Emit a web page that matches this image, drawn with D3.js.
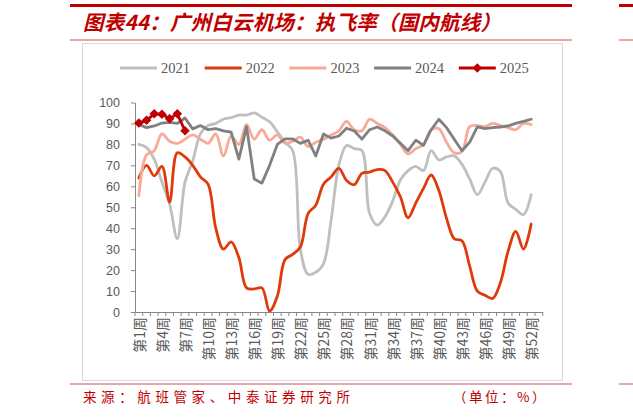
<!DOCTYPE html>
<html><head><meta charset="utf-8">
<script src="https://cdn.jsdelivr.net/npm/d3@7"></script>
<style>html,body{margin:0;padding:0;background:#fff;}svg{display:block;}</style>
</head><body>
<script>
// ---- data ----
const weeks = d3.range(1, 54).map(i => `第${i}周`);
const seriesNames = ["2021", "2022", "2023", "2024", "2025"];
const y2021 = [80,78.5,73,62,51.5,35,62,72,85,89,90,92,92.8,94,94,95,93,90.8,86,81,77,30,18,19,23,44,70,79.5,78,77,47,41.5,45.5,53,63,67.5,69.5,67.5,77,72.6,74,74.5,70.5,63.5,56,62,68.6,67,52,49,46.5,56];
const y2022 = [64,70,65,69.5,52.5,76,74,70,64.5,61,40,30,33.5,26,11.5,11,11.5,0.5,7.5,25,27.5,31,47,51,61,64.5,68.6,62.8,60.8,66.2,66.8,68,67.5,62,55,45,52,59,65.4,58,44.7,35,34,22,10,8,6.5,14,29,38.5,30,42];
const y2023 = [55.5,75,77,85,81.5,80.5,82.5,84.5,82.5,80.5,85,74.5,84,80,89.5,82.5,87,82,84.5,80.5,81.5,83.5,79,81,82.5,84.5,86.5,91,87,86.5,92,90,88,84.5,80,75.5,78,80,87,87.5,81,76,76.5,88.5,89,88.5,90,89,88,87,90,89.5];
const y2024 = [89.5,88,88.8,90.2,90.5,90,92.6,87.4,89,87,87.5,86.5,85.8,73,88.5,63.5,61.5,70,80,82.6,82.6,80.5,82,74.5,85,83,84,87.7,86.4,82.5,87,88.3,86.5,84,80.5,77,82,79.5,87,92,88,82.5,77,81,88.4,87.5,88,88.3,88.8,90,91,92];
const y2025 = [90.2,91.5,94.6,94.4,92.3,94.6,86.5];
const yTicks = [0,10,20,30,40,50,60,70,80,90,100];
const titleText = "图表44：广州白云机场：执飞率（国内航线）";
const sourceText = "来源：航班管家、中泰证券研究所";
const unitText = "（单位：%）";

const colors = {"2021":"#bfbfbf","2022":"#de3a0c","2023":"#f8a997","2024":"#808080","2025":"#c00000"};
const values = {"2021":y2021,"2022":y2022,"2023":y2023,"2024":y2024,"2025":y2025};
const smooth = {"2021":true,"2022":true,"2023":true,"2024":false,"2025":false};

const W = 633, H = 419;
const svg = d3.select("body").append("svg").attr("width", W).attr("height", H);
svg.append("rect").attr("width", W).attr("height", H).attr("fill", "#fff");

// header / footer decorations
svg.append("rect").attr("x", 70).attr("y", 4).attr("width", 502).attr("height", 3).attr("fill", "#c00000");
svg.append("rect").attr("x", 619).attr("y", 4).attr("width", 14).attr("height", 3).attr("fill", "#c00000");
svg.append("text").attr("x", 83).attr("y", 30).attr("textLength", 418).attr("lengthAdjust", "spacing")
  .attr("font-family", "'Noto Sans CJK SC'").attr("font-size", 20.5).attr("font-weight", "bold")
  .attr("font-style", "italic").attr("fill", "#c00000").text(titleText);
svg.append("rect").attr("x", 70).attr("y", 39.5).attr("width", 502).attr("height", 1).attr("fill", "#d05050");
svg.append("rect").attr("x", 619).attr("y", 39.5).attr("width", 14).attr("height", 1).attr("fill", "#d05050");
svg.append("rect").attr("x", 82.5).attr("y", 43.5).attr("width", 480).attr("height", 337)
  .attr("fill", "none").attr("stroke", "#d9d9d9").attr("stroke-width", 1);
svg.append("rect").attr("x", 70).attr("y", 383.5).attr("width", 502).attr("height", 1).attr("fill", "#d05050");
svg.append("rect").attr("x", 619).attr("y", 383.5).attr("width", 14).attr("height", 1).attr("fill", "#d05050");
svg.append("text").attr("x", 83).attr("y", 402)
  .attr("font-family", "'Noto Sans CJK SC'").attr("font-size", 13.5).attr("letter-spacing", 4.6)
  .attr("fill", "#c00000").text(sourceText);
svg.append("text").attr("x", 548).attr("y", 402).attr("text-anchor", "end")
  .attr("font-family", "'Noto Sans CJK SC'").attr("font-size", 13.5).attr("letter-spacing", 2.5)
  .attr("fill", "#c00000").text(unitText);

// scales
const x = d3.scaleBand().domain(weeks).range([135, 542.7]).paddingInner(0).paddingOuter(0);
const y = d3.scaleLinear().domain([0, 100]).range([312, 102.5]);
const cx = i => x(weeks[i]) + x.bandwidth() / 2;

// y axis
const gy = svg.append("g").attr("transform", "translate(135,0)")
  .call(d3.axisLeft(y).tickValues(yTicks).tickSize(4).tickSizeOuter(0).tickPadding(11));
gy.select(".domain").attr("stroke", "#868686");
gy.selectAll(".tick line").attr("stroke", "#868686");
gy.selectAll("text").attr("font-family", "'Liberation Sans', Arial").attr("font-size", 12.5).attr("fill", "#595959");

// x axis: labels via axis, boundary ticks via band scale
const gx = svg.append("g").attr("transform", "translate(0,312)")
  .call(d3.axisBottom(x).tickSize(0).tickSizeOuter(0)
    .tickFormat((d, i) => (i % 3 === 0 && i < 52) ? d : ""));
gx.select(".domain").attr("stroke", "#868686");
gx.selectAll("text")
  .attr("font-family", "'Noto Sans CJK SC'").attr("font-size", 14).attr("fill", "#595959")
  .attr("transform", "rotate(-90)").attr("text-anchor", "end")
  .attr("x", -5).attr("y", 1).attr("dy", "0.35em");
const bounds = weeks.map(w => x(w)).concat([x.range()[1]]);
svg.append("g").selectAll("line").data(bounds).join("line")
  .attr("x1", d => d).attr("x2", d => d).attr("y1", 312).attr("y2", 316)
  .attr("stroke", "#868686").attr("stroke-width", 1);

// lines
const plot = svg.append("g");
seriesNames.forEach(name => {
  const line = d3.line().x((d, i) => cx(i)).y(d => y(d))
    .curve(smooth[name] ? d3.curveCatmullRom.alpha(0.5) : d3.curveLinear);
  plot.append("path").datum(values[name]).attr("d", line)
    .attr("fill", "none").attr("stroke", colors[name]).attr("stroke-width", 2.8)
    .attr("stroke-linejoin", "round").attr("stroke-linecap", "round");
});
const diamond = d3.symbol().type(d3.symbolSquare).size(46);
plot.append("g").selectAll("path").data(y2025).join("path")
  .attr("d", diamond)
  .attr("transform", (d, i) => `translate(${cx(i)},${y(d)}) rotate(45)`)
  .attr("fill", colors["2025"]);

// legend
const leg = svg.append("g");
seriesNames.forEach((name, i) => {
  const x0 = 120 + i * 84.7;
  leg.append("line").attr("x1", x0).attr("x2", x0 + 37).attr("y1", 68).attr("y2", 68)
    .attr("stroke", colors[name]).attr("stroke-width", 2.8);
  if (name === "2025") {
    leg.append("path").attr("d", diamond).attr("transform", `translate(${x0 + 18.5},68) rotate(45)`)
      .attr("fill", colors[name]);
  }
  leg.append("text").attr("x", x0 + 41).attr("y", 68).attr("dy", "0.35em")
    .attr("font-family", "'Liberation Serif', 'Times New Roman'").attr("font-size", 14.5)
    .attr("fill", "#595959").text(name);
});
</script>
</body></html>
